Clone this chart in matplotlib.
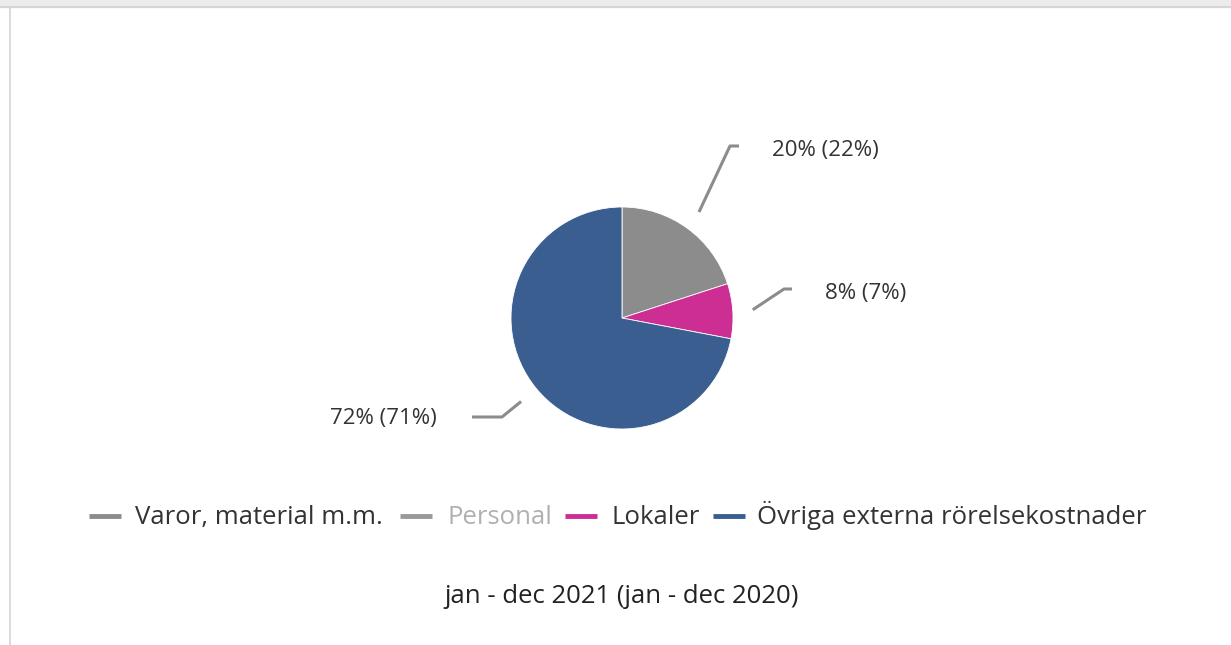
import matplotlib
matplotlib.use("Agg")
import numpy as np
from matplotlib import pyplot as plt

plt.rcParams['font.family'] = ['Open Sans', 'DejaVu Sans']

# data
categories = ["Varor, material m.m.", "Personal", "Lokaler", "Övriga externa rörelsekostnader"]
shares_2021 = [20, 0, 8, 72]
shares_2020 = [22, 0, 7, 71]
visible = [True, False, True, True]
colors = ["#8c8c8c", "#cccccc", "#cc2e94", "#3a5e8f"]
title = "jan - dec 2021 (jan - dec 2020)"

W, H = 1231, 645
fig = plt.figure(figsize=(W / 100, H / 100), dpi=100)
ax = fig.add_axes([0, 0, 1, 1])


def py(y):
    # pixel row -> axes y
    return H - y


# pie
cx, cy, r = 622, py(318), 111
vals = [v for v, s in zip(shares_2021, visible) if s and v > 0]
cols = [c for c, v, s in zip(colors, shares_2021, visible) if s and v > 0]
prev = [p for p, v, s in zip(shares_2020, shares_2021, visible) if s and v > 0]
wedges, _ = ax.pie(vals, colors=cols, startangle=90, counterclock=False,
                   center=(cx, cy), radius=r, frame=True,
                   wedgeprops=dict(linewidth=0.6, edgecolor="white"))
ax.set_xlim(0, W)
ax.set_ylim(0, H)
ax.set_aspect("equal")
ax.axis("off")

# page frame
ax.axhspan(py(7), H, color="#ececec", zorder=0)
ax.plot([0, W], [py(7), py(7)], color="#d6d6d6", lw=1.5)
ax.plot([10, 10], [0, py(7)], color="#d4d4d4", lw=1.2)

# data labels with connectors: (label x, baseline y, align, knee x, end x, line y)
label_pos = [(772, 156, "left", 730, 739, 146),
             (825, 299, "left", 784, 792, 289),
             (437, 424, "right", 502, 472, 417)]
total = sum(vals)
start = 0
for v, p, (lx, ly, ha, kx, ex, ky) in zip(vals, prev, label_pos):
    mid = (start + v / 2) / total * 2 * np.pi
    start += v
    sx, sy = cx + (r + 20) * np.sin(mid), cy + (r + 20) * np.cos(mid)
    ax.plot([sx, kx, ex], [sy, py(ky), py(ky)], color="#8c8c8c", lw=2.2,
            solid_capstyle="butt", solid_joinstyle="round")
    ax.text(lx, py(ly), f"{v}% ({p}%)", ha=ha, va="baseline",
            fontsize=16, color="#333333")

# legend
leg_y = py(516)
leg_x = [89, 400, 565, 713]
leg_tx = [135, 447, 612, 757]
for x0, tx, name, c, s in zip(leg_x, leg_tx, categories, colors, visible):
    ax.plot([x0, x0 + 32], [leg_y, leg_y], color="#999999" if not s else c,
            lw=3.5, solid_capstyle="butt")
    ax.text(tx, py(524), name, ha="left", va="baseline", fontsize=18.5,
            color="#333333" if s else "#b0b0b0")

ax.text(622, py(603), title, ha="center", va="baseline", fontsize=18.5,
        color="#222222")

fig.savefig("out.png", dpi=100)
